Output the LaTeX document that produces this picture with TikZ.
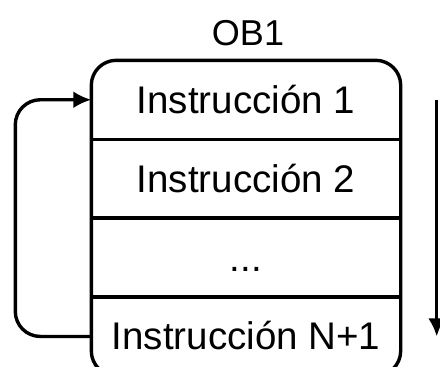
\documentclass[tikz,border=0pt]{standalone}
\usepackage{fontspec}
\setmainfont{Liberation Sans}
\usetikzlibrary{arrows.meta, positioning}

\begin{document}
\begin{tikzpicture}[x = 1pt, y = 1pt, > = {Latex[length = 18pt, width = 17pt]}, line width = 3.4pt,
	row/.style = {minimum width = 306pt, minimum height = 75.5pt, inner sep = 0pt,
		text height = 27pt, text depth = 0pt, font = \fontsize{38.5}{42}\selectfont}]

	% Bounding box
	
	\useasboundingbox (0, 0) rectangle (440, -367);

	% Instructions
	
	\node [row] (ins1) at (246, -99.75) {Instrucción 1};
	\node [row, below = 0pt of ins1] (ins2) {Instrucción 2};
	\node [row, below = 0pt of ins2] (ins3) {...};
	\node [row, below = 0pt of ins3] (insN) {Instrucción N+1};
	
	% Block frame and dividers
	
	\draw [rounded corners = 25pt] (ins1.north west) rectangle (insN.south east);
	
	\foreach \a in {ins1, ins2, ins3}
		\draw (\a.south west) -- (\a.south east);
	
	% Block label
	
	\node [font = \fontsize{36}{40}\selectfont, text height = 25pt, text depth = 0pt] (ob) at (248, -33) {OB1};
	
	% Cycle and execution order
	
	\draw [->, rounded corners = 25pt] (insN.west) -- ++(-76, 0) |- (ins1.west);
	
	\draw [->] ([xshift = 36pt] ins1.east) -- ([xshift = 36pt] insN.east);
	
\end{tikzpicture}
\end{document}
